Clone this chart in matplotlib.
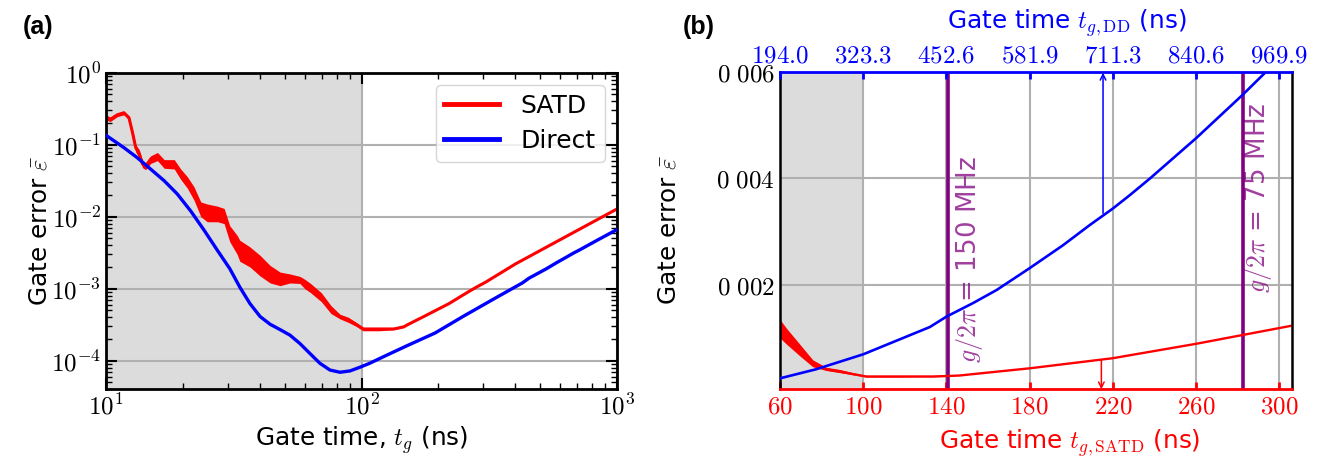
import matplotlib
matplotlib.use("Agg")
import matplotlib.pyplot as plt
from matplotlib.ticker import FuncFormatter, LogLocator, NullFormatter, FixedLocator, FixedFormatter
import numpy as np

plt.rcParams['mathtext.fontset'] = 'cm'
plt.rcParams['font.family'] = ['DejaVu Sans']

# ---------------- data ----------------
# SATD (red): noisy region with envelope (t in ns)
red_t = [10.0, 10.4, 11.07, 11.75, 12.3, 12.7, 13.07, 13.5, 13.9, 14.3, 14.96, 15.9, 16.9,
         18.5, 19.6, 20.8, 22.1, 23.5, 24.9, 27.3, 29.0, 30.5, 32.6, 33.4, 36.6, 40.1, 43.9,
         48.0, 52.5, 57.4, 60.0, 63.2, 69.6, 76.0, 82.4, 88.8, 95.2, 101.6, 117.6, 133.7,
         146.5, 150.0, 180.0, 220.0, 260.0, 283.0, 306.0, 400.0, 600.0, 1000.0]
red_err = [0.24, 0.225, 0.26, 0.278, 0.237, 0.147, 0.091, 0.074, 0.054, 0.050, 0.063, 0.070, 0.054,
           0.054, 0.039, 0.030, 0.021, 0.0128, 0.012, 0.0115, 0.0105, 0.0058, 0.0042, 0.0034, 0.00275,
           0.0021, 0.0016, 0.00138, 0.00138, 0.0013, 0.0012, 0.00105, 0.00078, 0.00051, 0.00041,
           0.00037, 0.00032, 0.000275, 0.000275, 0.000275, 0.000295, 0.00031, 0.00043, 0.00062,
           0.00089, 0.00106, 0.00123, 0.0022, 0.0048, 0.0128]
red_lo = [0.22, 0.21, 0.245, 0.26, 0.22, 0.13, 0.08, 0.065, 0.048, 0.045, 0.055, 0.06, 0.047,
          0.046, 0.033, 0.025, 0.017, 0.010, 0.0085, 0.0085, 0.008, 0.0045, 0.003, 0.0024, 0.002,
          0.0015, 0.0012, 0.0011, 0.0012, 0.00118, 0.0010, 0.00088, 0.00066, 0.00045, 0.00038,
          0.00034, 0.00030, 0.00026, 0.00026, 0.00027, 0.00029]
red_hi = [0.26, 0.24, 0.275, 0.29, 0.25, 0.16, 0.10, 0.085, 0.06, 0.056, 0.07, 0.078, 0.062,
          0.062, 0.046, 0.036, 0.026, 0.016, 0.015, 0.014, 0.013, 0.0075, 0.0055, 0.0047, 0.0038,
          0.0029, 0.0021, 0.0017, 0.0016, 0.00148, 0.00135, 0.00118, 0.00088, 0.00058, 0.00044,
          0.0004, 0.00034, 0.00029, 0.00029, 0.00029, 0.0003]

# Direct (blue)
blue_t = [10.0, 11.75, 13.25, 14.96, 16.9, 19.0, 21.45, 24.2, 27.3, 30.5, 33.4, 36.6, 40.1,
          43.9, 48.0, 52.5, 57.4, 62.8, 68.7, 75.3, 82.4, 90.1, 98.6, 107.7, 121.6, 150.0,
          194.0, 250.0, 323.3, 426.8, 452.6, 494.0, 530.6, 581.9, 633.7, 675.4, 711.3, 737.5,
          768.5, 840.6, 913.4, 947.0, 1000.0]
blue_err = [0.135, 0.091, 0.066, 0.0457, 0.0315, 0.0207, 0.012, 0.0065, 0.0034, 0.0019, 0.00105,
            6.2e-4, 4.1e-4, 3.2e-4, 2.7e-4, 2.26e-4, 1.73e-4, 1.26e-4, 9.2e-5, 7.4e-5, 6.9e-5,
            7.2e-5, 8.1e-5, 9.2e-5, 1.13e-4, 1.6e-4, 2.42e-4, 4.12e-4, 6.93e-4, 1.205e-3, 1.40e-3,
            1.655e-3, 1.90e-3, 2.31e-3, 2.74e-3, 3.12e-3, 3.43e-3, 3.68e-3, 3.99e-3, 4.75e-3,
            5.57e-3, 5.97e-3, 6.63e-3]

# panel (b) axes info
b_bottom_ticks = [60, 100, 140, 180, 220, 260, 300]
b_top_ticks = [194.0, 323.3, 452.6, 581.9, 711.3, 840.6, 969.9]
b_yticks = [0.002, 0.004, 0.006]
b_ytick_labels = [r"$0\ 002$", r"$0\ 004$", r"$0\ 006$"]
coupling_lines = [140.8, 282.5]
coupling_labels = [r"$g/2\pi$ = 150 MHz", r"$g/2\pi$ = 75 MHz"]

W, H = 1318, 462
fig = plt.figure(figsize=(W / 100, H / 100), dpi=100)

GRID = '#b0b0b0'
SHADE = '#dcdcdc'
PURPLE = '#800080'
LABEL_FS = 17.8
nz = len(red_lo)

# ---------------- panel (a) ----------------
axa = fig.add_axes([106 / W, 1 - 389.3 / H, 511 / W, 316.6 / H])
axa.set_xscale('log')
axa.set_yscale('log')
axa.axvspan(10, 100, color=SHADE, zorder=0, lw=0)
axa.fill_between(red_t[:nz], red_lo, red_hi, color='red', lw=0, zorder=2)
axa.plot(red_t, red_err, color='red', lw=2.2, label='SATD', zorder=2)
axa.plot(blue_t, blue_err, color='blue', lw=2.4, label='Direct', zorder=3)
axa.set_xlim(10, 1000)
axa.set_ylim(4e-5, 1)
axa.grid(which='major', color=GRID, lw=1.5, zorder=1)
axa.set_axisbelow(True)
axa.xaxis.set_major_formatter(FuncFormatter(lambda v, p: r"$10^{%d}$" % round(np.log10(v))))
axa.yaxis.set_major_formatter(FuncFormatter(lambda v, p: r"$10^{%d}$" % round(np.log10(v))))
axa.xaxis.set_minor_formatter(NullFormatter())
axa.yaxis.set_minor_formatter(NullFormatter())
axa.yaxis.set_major_locator(LogLocator(base=10, numticks=20))
axa.yaxis.set_minor_locator(LogLocator(base=10, subs=np.arange(2, 10), numticks=20))
axa.tick_params(which='both', direction='in', top=True, right=True, labelsize=18)
axa.tick_params(which='major', length=8, width=1.5)
axa.tick_params(which='minor', length=4.5, width=1.0)
for s in axa.spines.values():
    s.set_linewidth(2)
axa.set_xlabel(r"Gate time, $t_g$ (ns)", fontsize=LABEL_FS, labelpad=3)
axa.set_ylabel(r"Gate error $\bar{\varepsilon}$", fontsize=LABEL_FS, labelpad=0)
leg = axa.legend(loc='upper right', fontsize=18, handlelength=2.2, borderpad=0.35,
                 labelspacing=0.45, handletextpad=0.85, borderaxespad=0.5)
for ln in leg.get_lines():
    ln.set_linewidth(3.5)

# ---------------- panel (b) ----------------
axb = fig.add_axes([780 / W, 1 - 389.3 / H, 511.7 / W, 317.6 / H])
axb.axvspan(60, 100, color=SHADE, zorder=0, lw=0)
axb.fill_between(red_t[:nz], red_lo, red_hi, color='red', lw=0, zorder=2)
axb.plot(red_t, red_err, color='red', lw=1.7, zorder=2)
for xv in coupling_lines:
    axb.axvline(xv, color=PURPLE, lw=2.6, zorder=1.5)
axb.set_xlim(60, 306)
axb.set_ylim(3.6e-5, 0.006)
axb.xaxis.set_major_locator(FixedLocator(b_bottom_ticks))
axb.xaxis.set_major_formatter(FixedFormatter([r"$%d$" % v for v in b_bottom_ticks]))
axb.yaxis.set_major_locator(FixedLocator(b_yticks))
axb.yaxis.set_major_formatter(FixedFormatter(b_ytick_labels))
axb.grid(True, color=GRID, lw=1.5, zorder=1)
axb.set_axisbelow(True)
axb.tick_params(axis='x', direction='in', colors='red', labelsize=18, length=5, width=2)
axb.tick_params(axis='y', direction='in', labelsize=18, length=0)
axb.spines['bottom'].set_color('red')
axb.spines['bottom'].set_linewidth(2)
axb.spines['top'].set_visible(False)
axb.spines['left'].set_linewidth(1.8)
axb.spines['right'].set_linewidth(1.8)
axb.set_xlabel(r"Gate time $t_{g,\mathrm{SATD}}$ (ns)", fontsize=LABEL_FS, color='red')
axb.xaxis.set_label_coords(0.567, -0.12)
axb.set_ylabel(r"Gate error $\bar{\varepsilon}$", fontsize=LABEL_FS)
axb.yaxis.set_label_coords(-0.195, 0.5)

k = b_top_ticks[-1] / b_bottom_ticks[-1]
ax2 = axb.twiny()
ax2.plot(blue_t, blue_err, color='blue', lw=1.9, zorder=3)
ax2.set_xlim(b_bottom_ticks[0] * k, 306 * k)
ax2.xaxis.set_major_locator(FixedLocator(b_top_ticks))
ax2.xaxis.set_major_formatter(FixedFormatter([r"$%.1f$" % v for v in b_top_ticks]))
ax2.tick_params(axis='x', direction='in', colors='blue', labelsize=18, length=5, width=2, pad=3)
for side in ['bottom', 'left', 'right']:
    ax2.spines[side].set_visible(False)
ax2.spines['top'].set_color('blue')
ax2.spines['top'].set_linewidth(2)
ax2.set_xlabel(r"Gate time $t_{g,\mathrm{DD}}$ (ns)", fontsize=LABEL_FS, color='blue')
ax2.xaxis.set_label_coords(0.56, 1.135)

# arrows
axb.annotate('', xy=(215.3, 0.00598), xytext=(215.3, 0.00334),
             arrowprops=dict(arrowstyle='->', color='blue', lw=1.1, shrinkA=0, shrinkB=0), zorder=4)
axb.annotate('', xy=(214.5, 3.6e-5), xytext=(214.5, 0.00058),
             arrowprops=dict(arrowstyle='->', color='red', lw=1.1, shrinkA=0, shrinkB=0), zorder=4)

# coupling labels
axb.text(151.0, 0.00248, coupling_labels[0], rotation=90, color=PURPLE, alpha=0.75,
         fontsize=18.8, ha='center', va='center', zorder=4)
axb.text(289.8, 0.00364, coupling_labels[1], rotation=90, color=PURPLE, alpha=0.75,
         fontsize=18.8, ha='center', va='center', zorder=4)

# panel labels
fig.text(23 / W, 1 - 27 / H, '(a)', fontsize=18, fontweight='bold', ha='left', va='center',
         family='Liberation Sans')
fig.text(683 / W, 1 - 27 / H, '(b)', fontsize=18, fontweight='bold', ha='left', va='center',
         family='Liberation Sans')

fig.savefig('out.png', dpi=100)
